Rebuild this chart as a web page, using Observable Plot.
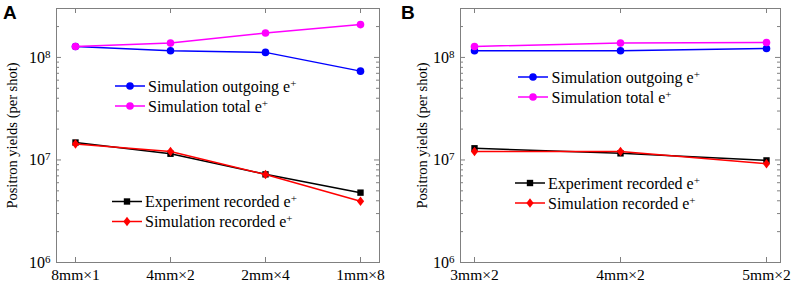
<!DOCTYPE html>
<html><head><meta charset="utf-8">
<script src="https://cdn.jsdelivr.net/npm/d3@7"></script>
<script src="https://cdn.jsdelivr.net/npm/@observablehq/plot@0.6"></script>
<style>
body{margin:0;background:#fff;}
#wrap{display:flex;width:796px;height:284px;overflow:hidden;}
svg{display:block;flex:none;}
svg text{font-family:"Liberation Serif", serif;}
svg text.sans{font-family:"Liberation Sans", sans-serif;}
</style></head><body><div id="wrap"></div>
<script>
// ---- data ----
const catsA = ["8mm×1", "4mm×2", "2mm×4", "1mm×8"];
const outgoingA = [1.28e8, 1.16e8, 1.12e8, 7.35e7];
const totalA = [1.28e8, 1.38e8, 1.73e8, 2.09e8];
const experimentA = [1.48e7, 1.15e7, 7.24e6, 4.8e6];
const simRecordedA = [1.43e7, 1.21e7, 7.2e6, 3.96e6];

const catsB = ["3mm×2", "4mm×2", "5mm×2"];
const outgoingB = [1.16e8, 1.16e8, 1.22e8];
const totalB = [1.28e8, 1.38e8, 1.40e8];
const experimentB = [1.30e7, 1.16e7, 9.9e6];
const simRecordedB = [1.21e7, 1.21e7, 9.2e6];

const seriesNames = ["Simulation outgoing e^+", "Simulation total e^+", "Experiment recorded e^+", "Simulation recorded e^+"];
const yLabel = "Positron yields (per shot)";
const yDomain = [1e6, 3e8];
const majorY = [1e6, 1e7, 1e8];

// ---- style ----
const minorY = [];
for (const dec of majorY) for (let k = 2; k <= 9; k++) { const v = k * dec; if (v <= yDomain[1]) minorY.push(v); }
const frameColor = "#808080";
const diamond = {draw(ctx, size) {
  const r = Math.sqrt(size / Math.PI), w = r * 0.95, h = r * 1.25;
  ctx.moveTo(0, -h); ctx.lineTo(w, 0); ctx.lineTo(0, h); ctx.lineTo(-w, 0); ctx.closePath();
}};
const styles = [
  {color: "#0000ff", symbol: d3.symbolCircle, r: 3.8},
  {color: "#ff00ff", symbol: d3.symbolCircle, r: 3.8},
  {color: "#000000", symbol: d3.symbolSquare, r: 3.6},
  {color: "#ff0000", symbol: diamond, r: 3.8}
];

function supText(el, str, supSize) {
  const m = str.match(/^(.*)\^(.+)$/);
  while (el.firstChild) el.removeChild(el.firstChild);
  if (!m) { el.textContent = str; return; }
  const ns = "http://www.w3.org/2000/svg";
  const a = document.createElementNS(ns, "tspan"); a.textContent = m[1]; el.appendChild(a);
  const b = document.createElementNS(ns, "tspan"); b.textContent = m[2];
  b.setAttribute("dy", "-0.45em"); b.setAttribute("font-size", supSize); b.style.fontSize = supSize;
  el.appendChild(b);
}

function panel(o) {
  const W = 398, H = 284, mt = 8, mb = 22;
  const pw = W - o.marginLeft - o.marginRight, ph = H - mt - mb;
  const vals = [o.outgoing, o.total, o.experiment, o.simRec];
  const marks = [];
  marks.push(Plot.frame({stroke: frameColor, strokeWidth: 1}));
  marks.push(Plot.tickY(majorY, {y: d => d, stroke: frameColor, insetRight: pw - 5}));
  marks.push(Plot.tickY(majorY, {y: d => d, stroke: frameColor, insetLeft: pw - 5}));
  marks.push(Plot.tickY(minorY, {y: d => d, stroke: frameColor, insetRight: pw - 3}));
  marks.push(Plot.tickY(minorY, {y: d => d, stroke: frameColor, insetLeft: pw - 3}));
  marks.push(Plot.tickX(o.cats, {x: d => d, stroke: frameColor, insetTop: ph - 5}));
  marks.push(Plot.tickX(o.cats, {x: d => d, stroke: frameColor, insetBottom: ph - 5}));
  marks.push(Plot.axisY({ticks: majorY, tickSize: 0, tickPadding: 6, label: null,
    tickFormat: d => "10^" + Math.round(Math.log10(d))}));
  marks.push(Plot.axisX({tickSize: 0, tickPadding: 6, label: null}));
  marks.push(Plot.text([yLabel], {text: d => d, frameAnchor: "left", textAnchor: "middle", rotate: -90, dx: o.labelDx, fontSize: 14.5}));
  vals.forEach((arr, i) => {
    const data = o.cats.map((c, j) => ({cat: c, v: arr[j]}));
    const s = styles[i];
    marks.push(Plot.line(data, {x: "cat", y: "v", stroke: s.color, strokeWidth: 1.5}));
    marks.push(Plot.dot(data, {x: "cat", y: "v", fill: s.color, stroke: "none", symbol: s.symbol, r: s.r}));
  });
  const svg = Plot.plot({
    width: W, height: H,
    marginLeft: o.marginLeft, marginRight: o.marginRight, marginTop: mt, marginBottom: mb,
    style: {background: "#fff", color: "#000", overflow: "visible"},
    x: {type: "point", domain: o.cats, padding: o.padding, axis: null},
    y: {type: "log", domain: yDomain, axis: null},
    marks
  });
  document.getElementById("wrap").appendChild(svg);
  svg.querySelectorAll("text").forEach(el => {
    const str = el.textContent;
    if (/^10\^\d$/.test(str)) {
      el.setAttribute("font-size", 16); el.style.fontSize = "16px";
      supText(el, str, "11px");
    } else if (o.cats.includes(str)) {
      el.setAttribute("font-size", 15.5); el.style.fontSize = "15.5px";
    }
  });
  const s = d3.select(svg);
  s.append("text").attr("class", "sans").attr("x", 3).attr("y", 19).attr("text-anchor", "start")
    .attr("font-weight", "bold").attr("font-size", 19).style("font-size", "19px").text(o.letter);
  o.legends.forEach(L => {
    L.items.forEach((idx, k) => {
      const y = L.y0 + k * 20, st = styles[idx];
      const g = s.append("g");
      g.append("line").attr("x1", L.x0).attr("x2", L.x1).attr("y1", y).attr("y2", y)
        .attr("stroke", st.color).attr("stroke-width", 1.5);
      g.append("path").attr("d", d3.symbol(st.symbol, st.r * st.r * Math.PI)())
        .attr("transform", `translate(${(L.x0 + L.x1) / 2},${y})`).attr("fill", st.color);
      const t = g.append("text").attr("x", L.tx).attr("y", y).attr("dy", "0.35em")
        .attr("text-anchor", "start").attr("font-size", 16).style("font-size", "16px");
      supText(t.node(), seriesNames[idx], "11px");
    });
  });
}

panel({
  letter: "A", cats: catsA, outgoing: outgoingA, total: totalA, experiment: experimentA, simRec: simRecordedA,
  marginLeft: 56, marginRight: 19, padding: 0.2, labelDx: -44,
  legends: [
    {items: [0, 1], x0: 115, x1: 145, tx: 148, y0: 86},
    {items: [2, 3], x0: 112, x1: 142, tx: 145, y0: 201.5}
  ]
});
panel({
  letter: "B", cats: catsB, outgoing: outgoingB, total: totalB, experiment: experimentB, simRec: simRecordedB,
  marginLeft: 62, marginRight: 16, padding: 0.09, labelDx: -38,
  legends: [
    {items: [0, 1], x0: 120, x1: 150, tx: 153.5, y0: 77},
    {items: [2, 3], x0: 117, x1: 147, tx: 150, y0: 183}
  ]
});
</script></body></html>
